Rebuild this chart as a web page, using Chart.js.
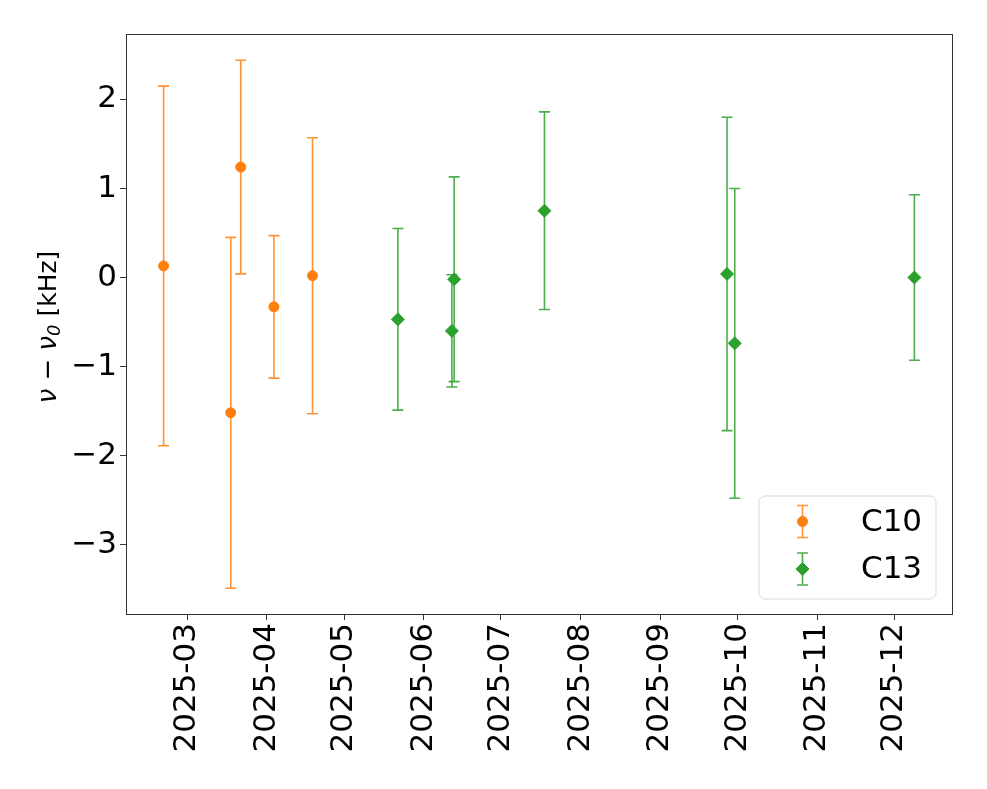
<!DOCTYPE html>
<html>
<head>
<meta charset="utf-8">
<title>nu - nu0 over time</title>
<script src="https://cdn.jsdelivr.net/npm/chart.js@4/dist/chart.umd.min.js"></script>
<style>
  html, body { margin: 0; padding: 0; background: #fff; }
</style>
</head>
<body>
<canvas id="grafico" width="987" height="789"></canvas>
<script>
// ─── Data ────────────────────────────────────────────────────────────────────

const c10Dates  = ['2025-02-19T19:00', '2025-03-17T22:00', '2025-03-21T19:00', '2025-04-03T17:00', '2025-04-18T17:00'];
const c10Values = [0.13, -1.52, 1.24, -0.33, 0.02];
const c10Errors = [2.02, 1.97, 1.20, 0.80, 1.55];

const c13Dates  = ['2025-05-21T22:00', '2025-06-11T22:00', '2025-06-12T19:00', '2025-07-17T22:00',
                   '2025-09-26T22:00', '2025-09-29T22:00', '2025-12-08T19:00'];
const c13Values = [-0.47, -0.60, -0.02, 0.75, 0.04, -0.74, 0.00];
const c13Errors = [1.02, 0.63, 1.15, 1.11, 1.76, 1.74, 0.93];

const xTickDates  = ['2025-03-01', '2025-04-01', '2025-05-01', '2025-06-01', '2025-07-01',
                     '2025-08-01', '2025-09-01', '2025-10-01', '2025-11-01', '2025-12-01'];
const xTickLabels = ['2025-03', '2025-04', '2025-05', '2025-06', '2025-07',
                     '2025-08', '2025-09', '2025-10', '2025-11', '2025-12'];
const yTicks = [-3, -2, -1, 0, 1, 2];

const X_MIN = '2025-02-05T04:00';
const X_MAX = '2025-12-23T10:00';
const Y_MIN = -3.78;
const Y_MAX = 2.735;

// days since 2025-01-01 (no date adapter available)
function toDay(s) {
  const iso = s.length === 10 ? s + 'T00:00Z' : s + 'Z';
  return (Date.parse(iso) - Date.UTC(2025, 0, 1)) / 86400000;
}

function pontos(datas, valores, erros) {
  return datas.map((d, i) => ({ x: toDay(d), y: valores[i], err: erros[i] }));
}

const ORANGE = '#ff7f0e';
const GREEN = '#2ca02c';
const FONT = 'DejaVu Sans';

// ─── Plugins ─────────────────────────────────────────────────────────────────

const errorBars = {
  id: 'errorBars',
  beforeDatasetsDraw(chart) {
    const { ctx, scales: { x, y } } = chart;
    ctx.save();
    chart.data.datasets.forEach(ds => {
      ctx.strokeStyle = ds.errColor;
      ctx.lineWidth = 1.6;
      ds.data.forEach(p => {
        const px = x.getPixelForValue(p.x);
        const top = y.getPixelForValue(p.y + p.err);
        const bot = y.getPixelForValue(p.y - p.err);
        ctx.beginPath();
        ctx.moveTo(px, top); ctx.lineTo(px, bot);
        ctx.moveTo(px - 5.5, top); ctx.lineTo(px + 5.5, top);
        ctx.moveTo(px - 5.5, bot); ctx.lineTo(px + 5.5, bot);
        ctx.stroke();
      });
    });
    ctx.restore();
  },
};

const frame = {
  id: 'frame',
  afterDatasetsDraw(chart) {
    const { ctx, chartArea: a } = chart;
    ctx.save();
    ctx.strokeStyle = '#333';
    ctx.lineWidth = 1;
    ctx.strokeRect(Math.round(a.left) + 0.5, Math.round(a.top) + 0.5,
                   Math.round(a.right - a.left), Math.round(a.bottom - a.top));
    ctx.restore();
  },
};

const legendBox = {
  id: 'legendBox',
  afterDraw(chart) {
    const { ctx, chartArea: a } = chart;
    const w = 177, h = 103;
    const left = a.right - 16.5 - w;
    const top = a.bottom - 15.5 - h;
    ctx.save();
    ctx.beginPath();
    ctx.roundRect(left + 0.5, top + 0.5, w, h, 6);
    ctx.fillStyle = 'rgba(255,255,255,0.8)';
    ctx.fill();
    ctx.strokeStyle = '#d9d9d9';
    ctx.lineWidth = 1;
    ctx.stroke();

    chart.data.datasets.forEach((ds, i) => {
      const mx = left + 44;
      const my = top + 26 + i * 47.5;
      ctx.strokeStyle = ds.errColor;
      ctx.lineWidth = 1.6;
      ctx.beginPath();
      ctx.moveTo(mx, my - 16); ctx.lineTo(mx, my + 16);
      ctx.moveTo(mx - 5.5, my - 16); ctx.lineTo(mx + 5.5, my - 16);
      ctx.moveTo(mx - 5.5, my + 16); ctx.lineTo(mx + 5.5, my + 16);
      ctx.stroke();
      ctx.fillStyle = ds.backgroundColor;
      ctx.strokeStyle = ds.borderColor;
      ctx.lineWidth = ds.borderWidth;
      Chart.helpers.drawPoint(ctx, { pointStyle: ds.pointStyle, radius: ds.pointRadius, rotation: 0, borderWidth: ds.borderWidth }, mx, my);
      ctx.fillStyle = '#000';
      ctx.font = `31px "${FONT}"`;
      ctx.textBaseline = 'middle';
      ctx.textAlign = 'left';
      ctx.fillText(ds.label, left + 102.5, my + 1);
    });
    ctx.restore();
  },
};

const yTitle = {
  id: 'yTitle',
  afterDraw(chart) {
    const { ctx, chartArea: a } = chart;
    const partes = [
      { t: 'ν', f: `italic 26px "${FONT}"`, dy: 0 },
      { t: ' − ', f: `26px "${FONT}"`, dy: 0 },
      { t: 'ν', f: `italic 26px "${FONT}"`, dy: 0 },
      { t: '0', f: `italic 18px "${FONT}"`, dy: 4 },
      { t: ' [kHz]', f: `25px "${FONT}"`, dy: 0 },
    ];
    ctx.save();
    let total = 0;
    partes.forEach(p => { ctx.font = p.f; p.w = ctx.measureText(p.t).width; total += p.w; });
    ctx.translate(56, (a.top + a.bottom) / 2 + 3);
    ctx.rotate(-Math.PI / 2);
    ctx.fillStyle = '#000';
    ctx.textBaseline = 'alphabetic';
    ctx.textAlign = 'left';
    let x = -total / 2;
    partes.forEach(p => { ctx.font = p.f; ctx.fillText(p.t, x, p.dy); x += p.w; });
    ctx.restore();
  },
};

// ─── Gráfico ─────────────────────────────────────────────────────────────────

const tickFont = { family: FONT, size: 31 };

new Chart(document.getElementById('grafico').getContext('2d'), {
  type: 'scatter',
  plugins: [errorBars, frame, legendBox, yTitle],
  data: {
    datasets: [
      {
        label: 'C10',
        data: pontos(c10Dates, c10Values, c10Errors),
        pointStyle: 'circle',
        pointRadius: 5,
        borderWidth: 1,
        backgroundColor: ORANGE,
        borderColor: ORANGE,
        errColor: 'rgba(255,127,14,0.85)',
      },
      {
        label: 'C13',
        data: pontos(c13Dates, c13Values, c13Errors),
        pointStyle: 'rectRot',
        pointRadius: 6.5,
        borderWidth: 1,
        backgroundColor: GREEN,
        borderColor: GREEN,
        errColor: 'rgba(44,160,44,0.85)',
      },
    ],
  },
  options: {
    responsive: false,
    animation: false,
    events: [],
    layout: { padding: { top: 34, right: 35, left: 0, bottom: 0 } },
    plugins: { legend: { display: false }, tooltip: { enabled: false } },
    scales: {
      x: {
        type: 'linear',
        min: toDay(X_MIN),
        max: toDay(X_MAX),
        afterBuildTicks: (s) => { s.ticks = xTickDates.map(d => ({ value: toDay(d) })); },
        afterFit: (s) => { s.height = 175; },
        ticks: {
          color: '#000', font: tickFont, autoSkip: false,
          minRotation: 90, maxRotation: 90, padding: 3,
          callback: (v, i) => xTickLabels[i],
        },
        grid: { drawOnChartArea: false, drawTicks: true, tickLength: 6, color: '#333' },
        border: { color: '#333' },
      },
      y: {
        min: Y_MIN,
        max: Y_MAX,
        afterBuildTicks: (s) => { s.ticks = yTicks.map(v => ({ value: v })); },
        afterFit: (s) => { s.width = 126; },
        ticks: {
          color: '#000', font: tickFont, padding: 3,
          callback: (v) => String(v).replace('-', '−'),
        },
        grid: { drawOnChartArea: false, drawTicks: true, tickLength: 6, color: '#333' },
        border: { color: '#333' },
      },
    },
  },
});
</script>
</body>
</html>
